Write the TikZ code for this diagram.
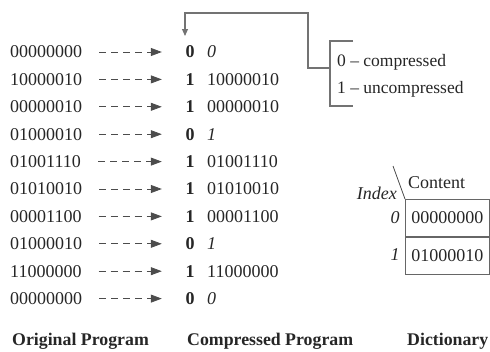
\documentclass[tikz,border=0pt]{standalone}
\usepackage{fontspec}
\setmainfont{Liberation Serif}
\usetikzlibrary{arrows.meta}
\begin{document}
\begin{tikzpicture}[x=1pt,y=-1pt,
  txt/.style={inner sep=0pt, anchor=west, font=\fontsize{18}{21}\selectfont, text=black!85},
  flag/.style={inner sep=0pt, font=\fontsize{18}{21}\selectfont\bfseries, text=black!85},
  lbl/.style={inner sep=0pt, anchor=west, font=\fontsize{17.8}{21}\selectfont\bfseries, text=black!85},
  dasharrow/.style={draw=black!70, dash pattern=on 7pt off 5pt, line width=0.8pt,
     -{Triangle[length=11pt,width=8pt]}, shorten <=17pt, shorten >=23.5pt},
  gline/.style={draw=black!55, line width=1.1pt},
  cell/.style={draw=black!60, line width=0.8pt, minimum width=84pt, minimum height=37pt,
     inner sep=0pt, anchor=north west}]
\useasboundingbox (0,0) rectangle (490,351);
% rows
\foreach \i/\o/\f/\c/\it in {0/00000000/0/0/1,1/10000010/1/10000010/0,2/00000010/1/00000010/0,3/01000010/0/1/1,4/01001110/1/01001110/0,5/01010010/1/01010010/0,6/00001100/1/00001100/0,7/01000010/0/1/1,8/11000000/1/11000000/0,9/00000000/0/0/1}{
  \pgfmathsetmacro{\yy}{52+27.4*\i}
  \node[txt] (o\i) at (10,\yy) {\o};
  \node[flag] (b\i) at (190,\yy) {\f};
  \ifnum\it=1
    \node[txt] (c\i) at (207,\yy) {\textit{\c}};
  \else
    \node[txt] (c\i) at (207,\yy) {\c};
  \fi
  \draw[dasharrow] (o\i.east) -- (b\i.west);
}
% legend bracket
\node[txt, font=\fontsize{17.5}{21}\selectfont] (leg0) at (337,62) {0 -- compressed};
\node[txt, font=\fontsize{17.5}{21}\selectfont] (leg1) at (337,89) {1 -- uncompressed};
\coordinate (brtop) at (353,41);
\coordinate (brbot) at (353,106);
\coordinate (brmid) at (330,68);
\coordinate (tip) at (185,36);
\draw[gline] (brtop) -- (330,41) -- (330,106) -- (brbot);
\draw[gline, -{Triangle[length=7pt,width=6pt]}] (brmid) -- (308,68) -- (308,13) -| (tip);
% dictionary
\node[txt, anchor=east, font=\fontsize{18}{21}\selectfont\itshape] (idx) at (397,193) {Index};
\node[txt] (cont) at (408,183) {Content};
\node[cell] (d0) at (405,199) {};
\node[cell] (d1) at (d0.south west) {};
\coordinate (diagtop) at (393,166);
\draw[draw=black!70, line width=0.8pt] (diagtop) -- (d0.north west);
\node[txt, anchor=center] (v0) at (d0.center) {00000000};
\node[txt, anchor=center] (v1) at (d1.center) {01000010};
\node[txt, anchor=center, font=\fontsize{18}{21}\selectfont\itshape] (i0) at (395,217.5) {0};
\node[txt, anchor=center, font=\fontsize{18}{21}\selectfont\itshape] (i1) at (395,254.5) {1};
% bottom labels
\node[lbl] (l1) at (12,341) {Original Program};
\node[lbl] (l2) at (187,341) {Compressed Program};
\node[lbl] (l3) at (407,341) {Dictionary};
\end{tikzpicture}
\end{document}
